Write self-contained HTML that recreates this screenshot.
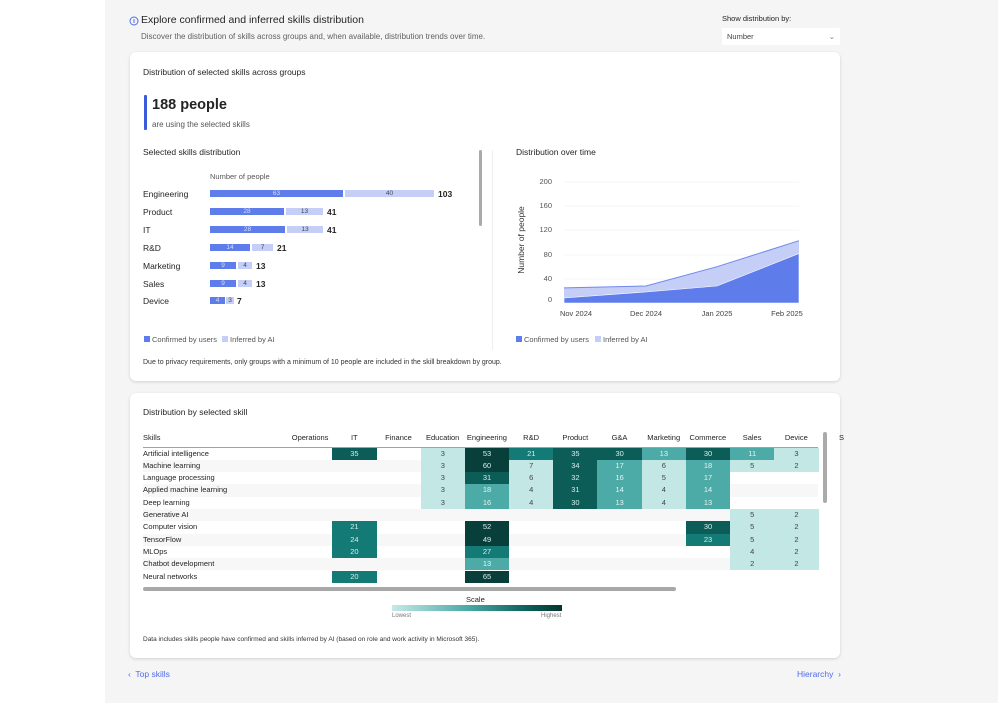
<!DOCTYPE html>
<html><head><meta charset="utf-8"><style>
*{margin:0;padding:0;box-sizing:border-box}
body{width:998px;height:703px;position:relative;background:#fff;font-family:"Liberation Sans",sans-serif;color:#242424;overflow:hidden}
.a{position:absolute;white-space:nowrap}
.card{position:absolute;background:#fff;border-radius:6px;box-shadow:0 1px 3px rgba(0,0,0,.15)}
.t8{font-size:8.5px}.t7{font-size:7px}
.b{position:absolute;height:7px;font-size:6.5px;text-align:center;line-height:7px}
.bc{background:#5f7dea;color:#d5dcfa}.bi{background:#c5cef7;color:#445}
.c{position:absolute;height:12.3px;font-size:7.5px;text-align:center;line-height:12.3px}
</style></head><body>
<div class="a" style="left:105px;top:0;width:893px;height:703px;background:#f5f5f5"></div>
<svg class="a" style="left:129px;top:16px" width="10" height="10"><circle cx="5" cy="5" r="4" fill="none" stroke="#4f6bed" stroke-width="1"/><rect x="4.5" y="3" width="1" height="4" fill="#4f6bed"/></svg>
<div class="a" style="left:141px;top:14px;font-size:10.5px;color:#242424">Explore confirmed and inferred skills distribution</div>
<div class="a" style="left:141px;top:32px;font-size:8px;color:#616161">Discover the distribution of skills across groups and, when available, distribution trends over time.</div>
<div class="a" style="left:722px;top:14px;font-size:7.5px">Show distribution by:</div>
<div class="a" style="left:722px;top:28px;width:118px;height:17px;background:#fff;border-radius:2px;font-size:7.5px;line-height:17px;padding-left:5px;color:#424242">Number<span style="position:absolute;right:5px;top:0;color:#777">&#8964;</span></div>

<div class="card" style="left:130px;top:52px;width:710px;height:329px"></div>
<div class="a" style="left:143px;top:67px;font-size:8.5px">Distribution of selected skills across groups</div>
<div class="a" style="left:144px;top:95px;width:3px;height:35px;background:#3b5bdb;border-radius:1px"></div>
<div class="a" style="left:152px;top:97px;font-size:14.5px;font-weight:bold">188 people</div>
<div class="a" style="left:152px;top:120px;font-size:8px;color:#555">are using the selected skills</div>
<div class="a" style="left:143px;top:147px;font-size:8.5px">Selected skills distribution</div>
<div class="a" style="left:210px;top:172px;font-size:7.5px;color:#555">Number of people</div>
<div class="a" style="left:479px;top:150px;width:3px;height:76px;background:#aaa;border-radius:2px"></div>
<div class="a" style="left:492px;top:150px;width:1px;height:200px;background:#eee"></div>

<div class="a t8" style="left:143px;top:189px">Engineering</div>
<div class="b bc" style="left:210px;top:190px;width:133px">63</div>
<div class="b bi" style="left:345px;top:190px;width:89px">40</div>
<div class="a t8" style="left:438px;top:189px;font-weight:bold">103</div>

<div class="a t8" style="left:143px;top:207px">Product</div>
<div class="b bc" style="left:210px;top:208px;width:74px">28</div>
<div class="b bi" style="left:286px;top:208px;width:37px">13</div>
<div class="a t8" style="left:327px;top:207px;font-weight:bold">41</div>

<div class="a t8" style="left:143px;top:225px">IT</div>
<div class="b bc" style="left:210px;top:226px;width:75px">28</div>
<div class="b bi" style="left:287px;top:226px;width:36px">13</div>
<div class="a t8" style="left:327px;top:225px;font-weight:bold">41</div>

<div class="a t8" style="left:143px;top:243px">R&amp;D</div>
<div class="b bc" style="left:210px;top:244px;width:40px">14</div>
<div class="b bi" style="left:252px;top:244px;width:21px">7</div>
<div class="a t8" style="left:277px;top:243px;font-weight:bold">21</div>

<div class="a t8" style="left:143px;top:261px">Marketing</div>
<div class="b bc" style="left:210px;top:262px;width:26px">9</div>
<div class="b bi" style="left:238px;top:262px;width:14px">4</div>
<div class="a t8" style="left:256px;top:261px;font-weight:bold">13</div>

<div class="a t8" style="left:143px;top:279px">Sales</div>
<div class="b bc" style="left:210px;top:280px;width:26px">9</div>
<div class="b bi" style="left:238px;top:280px;width:14px">4</div>
<div class="a t8" style="left:256px;top:279px;font-weight:bold">13</div>

<div class="a t8" style="left:143px;top:296px">Device</div>
<div class="b bc" style="left:210px;top:297px;width:15px">4</div>
<div class="b bi" style="left:226px;top:297px;width:8px">3</div>
<div class="a t8" style="left:237px;top:296px;font-weight:bold">7</div>

<div class="a" style="left:144px;top:336px;width:6px;height:6px;background:#5f7dea"></div>
<div class="a" style="left:152px;top:335px;color:#555;font-size:7.5px">Confirmed by users</div>
<div class="a" style="left:222px;top:336px;width:6px;height:6px;background:#c5cef7"></div>
<div class="a" style="left:230px;top:335px;color:#555;font-size:7.5px">Inferred by AI</div>

<div class="a" style="left:516px;top:147px;font-size:8.5px">Distribution over time</div>
<svg class="a" style="left:500px;top:170px" width="320" height="150">
<g stroke="#f0f0f0" stroke-width="0.8"><line x1="64" x2="299" y1="12" y2="12"/><line x1="64" x2="299" y1="36" y2="36"/><line x1="64" x2="299" y1="60" y2="60"/><line x1="64" x2="299" y1="85" y2="85"/><line x1="64" x2="299" y1="109" y2="109"/></g>
<g font-size="7.5" fill="#555" text-anchor="end" font-family="Liberation Sans"><text x="52" y="14">200</text><text x="52" y="38">160</text><text x="52" y="62">120</text><text x="52" y="87">80</text><text x="52" y="111">40</text><text x="52" y="132">0</text></g>
<text transform="translate(24,70) rotate(-90)" font-size="8.5" fill="#333" text-anchor="middle" font-family="Liberation Sans">Number of people</text>
<polygon points="64,133 64,117.9 146,116 217,96.7 299,70.7 299,133" fill="#c5cef7"/>
<polyline points="64,117.9 146,116 217,96.7 299,70.7" fill="none" stroke="#6f88ee" stroke-width="1"/>
<polygon points="64,133 64,128 146,122 217,116 299,83.5 299,133" fill="#5f7dea" stroke="#fff" stroke-width="0.6"/>
<g font-size="7.5" fill="#444" text-anchor="middle" font-family="Liberation Sans"><text x="76" y="146">Nov 2024</text><text x="146" y="146">Dec 2024</text><text x="217" y="146">Jan 2025</text><text x="287" y="146">Feb 2025</text></g>
</svg>
<div class="a" style="left:516px;top:336px;width:6px;height:6px;background:#5f7dea"></div>
<div class="a" style="left:524px;top:335px;color:#555;font-size:7.5px">Confirmed by users</div>
<div class="a" style="left:595px;top:336px;width:6px;height:6px;background:#c5cef7"></div>
<div class="a" style="left:603px;top:335px;color:#555;font-size:7.5px">Inferred by AI</div>
<div class="a" style="left:143px;top:359px;font-size:7px;color:#333">Due to privacy requirements, only groups with a minimum of 10 people are included in the skill breakdown by group.</div>

<div class="card" style="left:130px;top:393px;width:710px;height:265px"></div>
<div class="a" style="left:143px;top:407px;font-size:8.5px">Distribution by selected skill</div>
<div id="hm"></div>
<div class="a" style="left:143px;top:587px;width:533px;height:4px;background:#a8a8a8;border-radius:2px"></div>
<div class="a" style="left:823px;top:432px;width:4px;height:71px;background:#aaa;border-radius:2px"></div>
<div class="a" style="left:466px;top:595px;font-size:7.5px">Scale</div>
<div class="a" style="left:392px;top:605px;width:170px;height:6px;background:linear-gradient(90deg,#c5e9e7,#4aa9a5 45%,#0c5e58 80%,#06362f)"></div>
<div class="a" style="left:392px;top:613px;font-size:6px;color:#777">Lowest</div>
<div class="a" style="left:541px;top:613px;font-size:6px;color:#777">Highest</div>
<div class="a" style="left:143px;top:636px;font-size:6.5px;color:#333">Data includes skills people have confirmed and skills inferred by AI (based on role and work activity in Microsoft 365).</div>
<div class="a" style="left:128px;top:669px;font-size:8.5px;color:#4f6bed">&#8249;&nbsp; Top skills</div>
<div class="a" style="left:797px;top:669px;font-size:8.5px;color:#4f6bed">Hierarchy &nbsp;&#8250;</div>

<script>
var cols=["Operations","IT","Finance","Education","Engineering","R&D","Product","G&A","Marketing","Commerce","Sales","Device"];
var rows=[["Artificial intelligence",[0,35,0,3,53,21,35,30,13,30,11,3]],
["Machine learning",[0,0,0,3,60,7,34,17,6,18,5,2]],
["Language processing",[0,0,0,3,31,6,32,16,5,17,0,0]],
["Applied machine learning",[0,0,0,3,18,4,31,14,4,14,0,0]],
["Deep learning",[0,0,0,3,16,4,30,13,4,13,0,0]],
["Generative AI",[0,0,0,0,0,0,0,0,0,0,5,2]],
["Computer vision",[0,21,0,0,52,0,0,0,0,30,5,2]],
["TensorFlow",[0,24,0,0,49,0,0,0,0,23,5,2]],
["MLOps",[0,20,0,0,27,0,0,0,0,0,4,2]],
["Chatbot development",[0,0,0,0,13,0,0,0,0,0,2,2]],
["Neural networks",[0,20,0,0,65,0,0,0,0,0,0,0]]];
function col(v){if(v<=7)return["#c2e7e5","#444"];if(v<=18)return["#4caaa7","#e6f4f3"];if(v<=27)return["#147a75","#d6eeec"];if(v<=35)return["#0c5c57","#d6eeec"];return["#083f3b","#d6eeec"];}
var h="";var x0=288,w=44.2,y0=447.5,rh=12.3;
h+='<div class="a" style="left:143px;top:433px;font-size:7.5px">Skills</div>';
cols.forEach(function(c,i){h+='<div class="a" style="left:'+(x0+i*w)+'px;width:'+w+'px;top:433px;font-size:7.5px;text-align:center">'+c.replace("&","&amp;")+'</div>';});
h+='<div class="a" style="left:839px;top:433px;font-size:7.5px">S</div>';
h+='<div class="a" style="left:143px;top:446.5px;width:675px;height:1px;background:#8aa0ee"></div>';
rows.forEach(function(r,j){var y=y0+j*rh;if(j%2==1)h+='<div class="a" style="left:143px;top:'+y+'px;width:675px;height:'+rh+'px;background:#f7f7f7"></div>';
h+='<div class="a" style="left:143px;top:'+y+'px;font-size:7.5px;line-height:'+rh+'px">'+r[0]+'</div>';
r[1].forEach(function(v,i){if(!v)return;var c=col(v);h+='<div class="c" style="left:'+(x0+i*w)+'px;top:'+y+'px;width:'+(w+0.3)+'px;background:'+c[0]+';color:'+c[1]+'">'+v+'</div>';});});
document.getElementById("hm").innerHTML=h;
</script>
</body></html>
